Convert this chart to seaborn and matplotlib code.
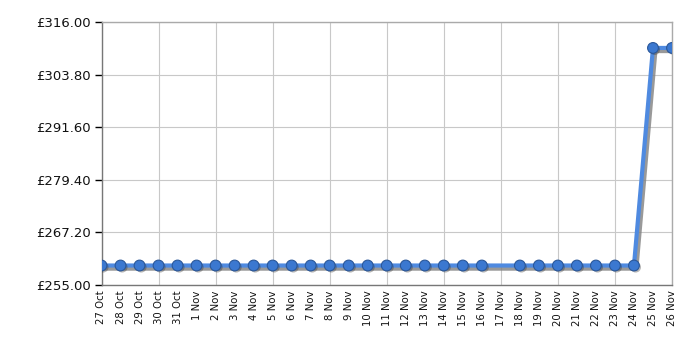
import matplotlib
matplotlib.use("Agg")
import matplotlib.pyplot as plt
import matplotlib.patheffects as pe
import seaborn as sns
import pandas as pd
import numpy as np

dates = ["27 Oct", "28 Oct", "29 Oct", "30 Oct", "31 Oct", "1 Nov", "2 Nov", "3 Nov",
         "4 Nov", "5 Nov", "6 Nov", "7 Nov", "8 Nov", "9 Nov", "10 Nov", "11 Nov",
         "12 Nov", "13 Nov", "14 Nov", "15 Nov", "16 Nov", "17 Nov", "18 Nov", "19 Nov",
         "20 Nov", "21 Nov", "22 Nov", "23 Nov", "24 Nov", "25 Nov", "26 Nov"]
prices = [259.50] * 21 + [np.nan] + [259.50] * 7 + [309.99, 309.99]
yticks = [255.00, 267.20, 279.40, 291.60, 303.80, 316.00]

sns.set_theme(style="white")
plt.rcParams['font.family'] = ['DejaVu Sans']

df = pd.DataFrame({"pos": np.arange(len(dates)), "price": prices}).dropna()

fig, ax = plt.subplots(figsize=(7, 3.5), dpi=100)
fig.subplots_adjust(left=0.145, right=0.96, top=0.937, bottom=0.186)

sns.lineplot(data=df, x="pos", y="price", ax=ax, color="#4f8ae0", linewidth=3,
             path_effects=[pe.SimpleLineShadow(offset=(1.5, -2), shadow_color="#808080",
                                               alpha=0.8, linewidth=3.5),
                           pe.Normal()], zorder=3)
sns.scatterplot(data=df, x="pos", y="price", ax=ax, s=60, color="#3b78d0",
                edgecolor="#2a5799", linewidth=0.8, zorder=4,
                path_effects=[pe.SimplePatchShadow(offset=(1.2, -1.2), shadow_rgbFace="#333333", alpha=0.35),
                              pe.Normal()])

ax.set_xlim(0, len(dates) - 1)
ax.set_ylim(255, 316)
ax.set_yticks(yticks)
ax.set_yticklabels([f"£{v:.2f}" for v in yticks], fontsize=9.5, color="#111111")
ax.set_xticks(np.arange(len(dates)))
ax.set_xticklabels(dates, rotation=90, fontsize=7.3, color="#111111")
ax.set_xticks(np.arange(0, len(dates), 3), minor=True)
ax.grid(False)
for v in yticks:
    ax.axhline(v, color="#c8c8c8", linewidth=0.8, zorder=0)
for p in np.arange(0, len(dates), 3):
    ax.axvline(p, color="#c8c8c8", linewidth=0.8, zorder=0)
ax.tick_params(axis="x", which="major", length=0, pad=4)
ax.tick_params(axis="y", length=5, width=1, color="#000000", left=True, pad=3)
ax.tick_params(axis="x", which="minor", length=5, width=1, color="#000000", bottom=True)
ax.set_xlabel("")
ax.set_ylabel("")
for s in ["left", "bottom"]:
    ax.spines[s].set_color("#777777")
    ax.spines[s].set_linewidth(1)
for s in ["top", "right"]:
    ax.spines[s].set_color("#aaaaaa")
    ax.spines[s].set_linewidth(1)

fig.savefig("out.png", dpi=100)
